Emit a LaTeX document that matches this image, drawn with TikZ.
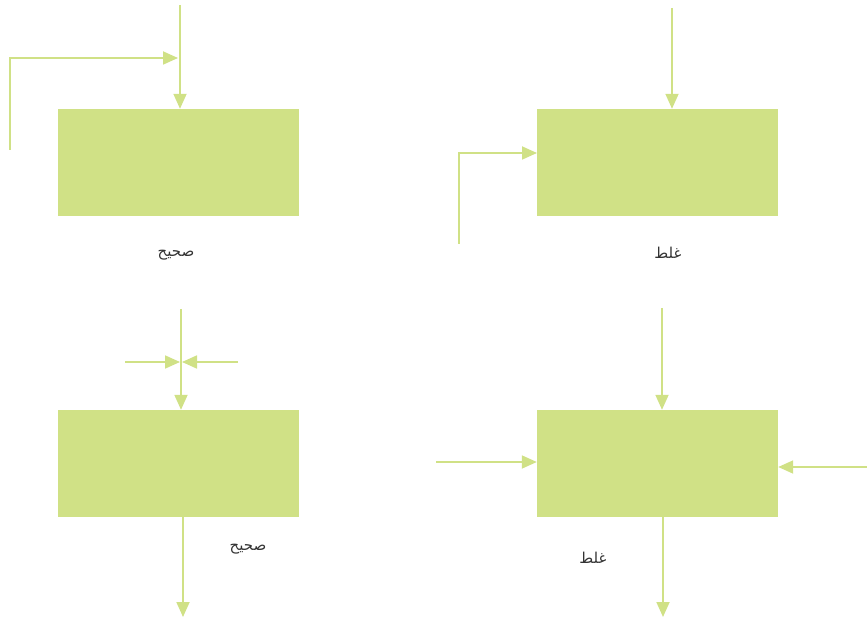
\documentclass[tikz,border=0pt]{standalone}
\usepackage{fontspec}
\usepackage{tikz}
\usetikzlibrary{arrows.meta,positioning}
\TeXXeTstate=1
\newfontfamily\arabicfont[Script=Arabic]{DejaVu Sans}
\definecolor{flowgreen}{HTML}{D0E186}
\definecolor{labelgray}{HTML}{333333}
\tikzstyle{block} = [rectangle, fill=flowgreen, minimum width=241pt, minimum height=107pt, inner sep=0pt]
\tikzstyle{arrow} = [-{Triangle[length=15pt,width=13pt]}, line width=1.8pt, flowgreen]
\tikzstyle{verdict} = [font=\arabicfont\fontsize{15}{17}\selectfont, text=labelgray]

\begin{document}
\begin{tikzpicture}[x=1pt,y=-1pt]
\useasboundingbox (0,0) rectangle (867,617);
% top left: correct
\node[block] (tl) at (178.5,162.5) {};
\coordinate (tlin) at (180,5);
\coordinate (tlside) at (10,150);
\coordinate (tljoin) at (178,58);
\draw[arrow] (tlin) -- (tlin |- tl.north);
\draw[arrow] (tlside) |- (tljoin);
\node[verdict] (tllab) at (176,255) {\beginR صحيح\endR};
% top right: wrong
\node[block] (tr) at (657.5,162.5) {};
\coordinate (trin) at (672,8);
\coordinate (trside) at (459,244);
\coordinate (trjoin) at (537,153);
\draw[arrow] (trin) -- (trin |- tr.north);
\draw[arrow] (trside) |- (trjoin);
\node[verdict] (trlab) at (668,253) {\beginR غلط\endR};
% bottom left: correct
\node[block] (bl) at (178.5,463.5) {};
\coordinate (blin) at (181,309);
\coordinate (blleft) at (125,362);
\coordinate (blright) at (238,362);
\coordinate (blout) at (183,617);
\draw[arrow] (blin) -- (blin |- bl.north);
\draw[arrow] (blleft) -- (180,362);
\draw[arrow] (blright) -- (182,362);
\draw[arrow] (bl.south -| blout) -- (blout);
\node[verdict] (bllab) at (248,549) {\beginR صحيح\endR};
% bottom right: wrong
\node[block] (br) at (657.5,463.5) {};
\coordinate (brin) at (662,308);
\coordinate (brleft) at (436,462);
\coordinate (brright) at (867,467);
\coordinate (brout) at (663,617);
\draw[arrow] (brin) -- (brin |- br.north);
\draw[arrow] (brleft) -- (brleft -| br.west);
\draw[arrow] (brright) -- (brright -| br.east);
\draw[arrow] (br.south -| brout) -- (brout);
\node[verdict] (brlab) at (593,558) {\beginR غلط\endR};
\end{tikzpicture}
\end{document}
